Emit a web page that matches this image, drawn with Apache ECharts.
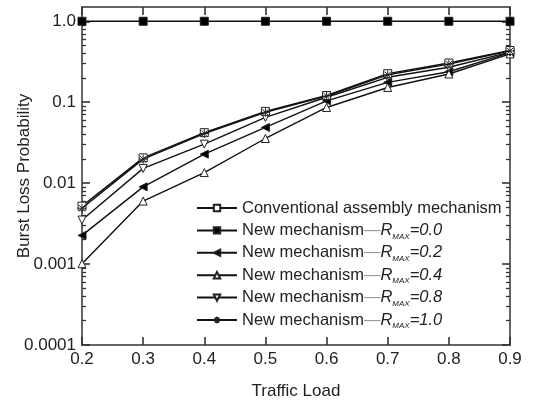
<!DOCTYPE html>
<html><head><meta charset="utf-8">
<script src="https://cdn.jsdelivr.net/npm/echarts@6/dist/echarts.min.js"></script>
<style>html,body{margin:0;padding:0;background:#fff}#c{width:533px;height:405px}</style>
</head><body><div id="c"></div>
<script>
const loads = [0.2, 0.3, 0.4, 0.5, 0.6, 0.7, 0.8, 0.9];
const conventional = [0.0052, 0.0205, 0.042, 0.077, 0.121, 0.225, 0.305, 0.435];
const rmax00 = [1, 1, 1, 1, 1, 1, 1, 1];
const rmax02 = [0.00226, 0.0090, 0.0228, 0.0488, 0.104, 0.176, 0.238, 0.41];
const rmax04 = [0.00101, 0.0060, 0.0135, 0.0356, 0.086, 0.152, 0.223, 0.395];
const rmax08 = [0.0035, 0.0152, 0.0303, 0.0648, 0.115, 0.203, 0.27, 0.415];
const rmax10 = [0.0049, 0.0198, 0.041, 0.075, 0.119, 0.218, 0.295, 0.43];
const rmaxLabels = ['0.0', '0.2', '0.4', '0.8', '1.0'];
const yTickValues = [0.0001, 0.001, 0.01, 0.1, 1];
const yTickLabels = ['0.0001', '0.001', '0.01', '0.1', '1.0'];
const xTickLabels = ['0.2', '0.3', '0.4', '0.5', '0.6', '0.7', '0.8', '0.9'];

const minorTicks = [];
for (let d = 0; d < 4; d++) {
  for (let k = 2; k <= 9; k++) minorTicks.push(+(k * yTickValues[d]).toPrecision(3));
}

const FONT = 'Liberation Sans, Arial, sans-serif';
const AX = '#333';
const LINE = '#111';
const pairs = arr => loads.map((x, i) => [x, arr[i]]);
const newName = r => 'New mechanism \u2014 RMAX=' + r;

const yBase = {
  type: 'log', logBase: 10, min: 0.0001, max: 1.5,
  splitLine: { show: false }
};
const yAxes = [
  Object.assign({}, yBase, {
    position: 'left',
    name: 'Burst Loss Probability', nameLocation: 'middle', nameGap: 49, nameRotate: 90, nameMoveOverlap: false,
    nameTextStyle: { fontFamily: FONT, fontSize: 17, color: '#222' },
    axisLine: { show: true, lineStyle: { color: AX, width: 1.5 } },
    axisTick: { show: true, inside: true, length: 8, customValues: yTickValues, lineStyle: { color: AX, width: 1.6 } },
    axisLabel: { show: true, margin: 6, customValues: yTickValues, fontFamily: FONT, fontSize: 17, color: '#222',
      formatter: v => { const i = yTickValues.findIndex(t => Math.abs(t - v) / t < 1e-6); return i >= 0 ? yTickLabels[i] : ''; } }
  }),
  Object.assign({}, yBase, {
    position: 'left',
    axisLine: { show: false },
    axisTick: { show: true, inside: true, length: 4, customValues: minorTicks, lineStyle: { color: AX, width: 1.3 } },
    axisLabel: { show: false }
  }),
  Object.assign({}, yBase, {
    position: 'right',
    axisLine: { show: true, lineStyle: { color: AX, width: 1.5 } },
    axisTick: { show: true, inside: true, length: 8, customValues: yTickValues, lineStyle: { color: AX, width: 1.6 } },
    axisLabel: { show: false }
  }),
  Object.assign({}, yBase, {
    position: 'right',
    axisLine: { show: false },
    axisTick: { show: true, inside: true, length: 4, customValues: minorTicks, lineStyle: { color: AX, width: 1.3 } },
    axisLabel: { show: false }
  })
];

const xBase = { type: 'value', min: 0.2, max: 0.9, interval: 0.1, splitLine: { show: false } };
const xAxes = [
  Object.assign({}, xBase, {
    position: 'bottom',
    name: 'Traffic Load', nameLocation: 'middle', nameGap: 38, nameMoveOverlap: false,
    nameTextStyle: { fontFamily: FONT, fontSize: 17, color: '#222' },
    axisLine: { show: true, lineStyle: { color: AX, width: 1.5 } },
    axisTick: { show: true, inside: true, length: 8, lineStyle: { color: AX, width: 1.6 } },
    axisLabel: { margin: 6, fontFamily: FONT, fontSize: 17, color: '#222',
      formatter: v => xTickLabels[Math.round((v - 0.2) * 10)] || '' }
  }),
  Object.assign({}, xBase, {
    position: 'top',
    axisLine: { show: true, lineStyle: { color: AX, width: 1.5 } },
    axisTick: { show: true, inside: true, length: 8, lineStyle: { color: AX, width: 1.6 } },
    axisLabel: { show: false }
  })
];

function mk(name, data, symbol, fill, z, size) {
  return {
    name, type: 'line', data: pairs(data), xAxisIndex: 0, yAxisIndex: 0,
    symbol, symbolSize: size || 8, showAllSymbol: true, clip: true, z: z || 2,
    lineStyle: { color: LINE, width: 1.4 },
    itemStyle: { color: fill, borderColor: '#222', borderWidth: 1 },
    emphasis: { disabled: true }
  };
}
const ASTER = 'path://M0,5L10,5M5,0L5,10M1.5,1.5L8.5,8.5M8.5,1.5L1.5,8.5';
const series = [
  mk('Conventional assembly mechanism', conventional, 'rect', '#fff', 3),
  mk(newName(rmaxLabels[0]), rmax00, 'rect', '#000'),
  mk(newName(rmaxLabels[1]), rmax02, 'path://M0,5L10,0L10,10Z', '#000'),
  mk(newName(rmaxLabels[2]), rmax04, 'triangle', '#fff'),
  mk(newName(rmaxLabels[3]), rmax08, 'path://M0,0L10,0L5,10Z', '#fff'),
  mk(newName(rmaxLabels[4]), rmax10, ASTER, '#fff', 4, 9)
];

const chart = echarts.init(document.getElementById('c'), null, { renderer: 'canvas' });
chart.setOption({
  animation: false,
  backgroundColor: '#fff',
  grid: { left: 82, right: 23, top: 7, bottom: 60, containLabel: false, outerBoundsMode: 'none' },
  xAxis: xAxes,
  yAxis: yAxes,
  legend: {
    orient: 'vertical', left: 196, top: 198, padding: 0,
    itemWidth: 40, itemHeight: 8, itemGap: 2.4,
    selectedMode: false,
    textStyle: { fontFamily: FONT, fontSize: 16.5, color: '#222', lineHeight: 20,
      rich: {
        n: { fontFamily: FONT, fontSize: 16.5, color: '#222', lineHeight: 20 },
        d: { fontFamily: FONT, fontSize: 16.5, color: '#999', lineHeight: 20 },
        r: { fontFamily: FONT, fontSize: 16.5, fontStyle: 'italic', color: '#222', lineHeight: 20 },
        s: { fontFamily: FONT, fontSize: 8, fontStyle: 'italic', color: '#222', verticalAlign: 'bottom', lineHeight: 20, padding: [12, 0, 0, 0] }
      }
    },
    formatter: name => {
      if (name.indexOf('RMAX=') < 0) return '{n|' + name + '}';
      const val = name.split('RMAX=')[1];
      return '{n|New mechanism}{d|\u2014}{r|R}{s|MAX}{r|=' + val + '}';
    },
    data: series.map(s => s.name)
  },
  series
});
</script>
</body></html>
